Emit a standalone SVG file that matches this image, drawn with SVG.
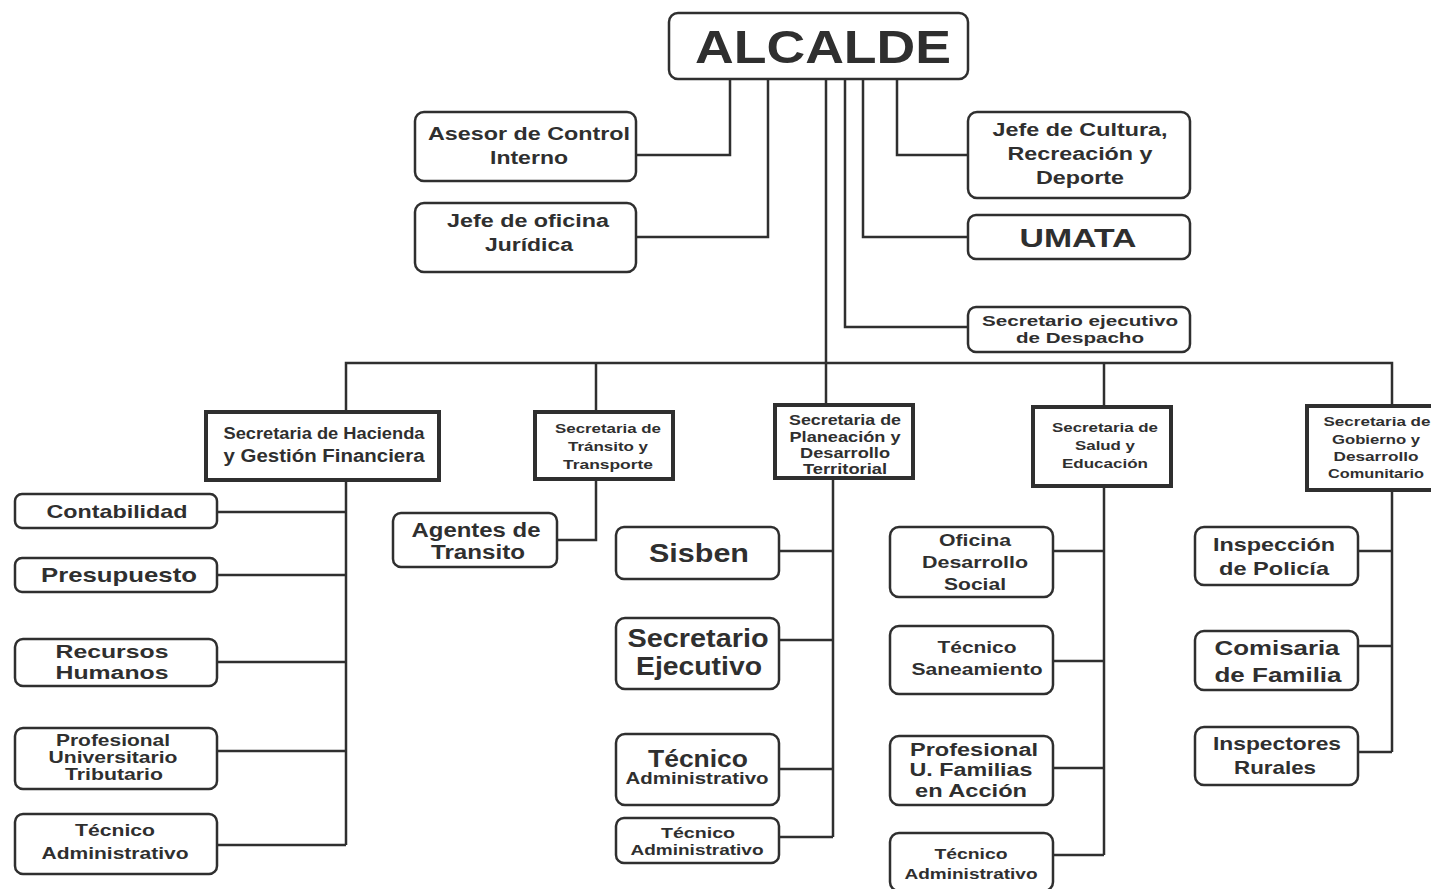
<svg xmlns="http://www.w3.org/2000/svg" width="1431" height="889" viewBox="0 0 1431 889">
<style>
.n{fill:#fff;stroke:#2f2f2f;stroke-width:2.5}
.s{fill:#fff;stroke:#2f2f2f;stroke-width:4}
.c{fill:none;stroke:#2f2f2f;stroke-width:2.5}
text{font-family:"Liberation Sans",Arial,sans-serif;font-weight:bold;fill:#2f2f2f;text-anchor:middle}
</style>
<rect width="1431" height="889" fill="#fff"/>
<g id="connectors">
<path class="c" d="M730,79V155H636"/>
<path class="c" d="M768,79V237H636"/>
<path class="c" d="M826,79V363"/>
<path class="c" d="M845,79V327H968"/>
<path class="c" d="M863,79V237H968"/>
<path class="c" d="M897,79V155H968"/>
<path class="c" d="M346,412V363H1392V406"/>
<path class="c" d="M596,363V412"/>
<path class="c" d="M826,363V405"/>
<path class="c" d="M1104,363V407"/>
<path class="c" d="M346,480V845"/>
<path class="c" d="M217,512H346M217,575H346M217,662H346M217,751H346M217,845H346"/>
<path class="c" d="M596,479V540H557"/>
<path class="c" d="M833,478V837"/>
<path class="c" d="M779,551H833M779,640H833M779,769H833M779,837H833"/>
<path class="c" d="M1104,486V855"/>
<path class="c" d="M1053,551H1104M1053,661H1104M1053,768H1104M1053,855H1104"/>
<path class="c" d="M1392,491V752"/>
<path class="c" d="M1358,551H1392M1358,646H1392M1358,752H1392"/>
</g>
<g id="alcalde"><rect class="n" x="669" y="13" width="299" height="66" rx="9"/><text x="823" y="63" font-size="46" textLength="256" lengthAdjust="spacingAndGlyphs">ALCALDE</text></g>
<g id="asesor"><rect class="n" x="415" y="112" width="221" height="69" rx="9"/><text x="529" y="140" font-size="18" textLength="202" lengthAdjust="spacingAndGlyphs">Asesor de Control</text><text x="529" y="164" font-size="18" textLength="78" lengthAdjust="spacingAndGlyphs">Interno</text></g>
<g id="juridica"><rect class="n" x="415" y="203" width="221" height="69" rx="9"/><text x="528" y="227" font-size="18" textLength="162" lengthAdjust="spacingAndGlyphs">Jefe de oficina</text><text x="529" y="251" font-size="18" textLength="88" lengthAdjust="spacingAndGlyphs">Jurídica</text></g>
<g id="cultura"><rect class="n" x="968" y="112" width="222" height="86" rx="9"/><text x="1080" y="136" font-size="18" textLength="175" lengthAdjust="spacingAndGlyphs">Jefe de Cultura,</text><text x="1080" y="160" font-size="18" textLength="145" lengthAdjust="spacingAndGlyphs">Recreación y</text><text x="1080" y="184" font-size="18" textLength="88" lengthAdjust="spacingAndGlyphs">Deporte</text></g>
<g id="umata"><rect class="n" x="968" y="215" width="222" height="44" rx="8"/><text x="1078" y="247" font-size="25" textLength="117" lengthAdjust="spacingAndGlyphs">UMATA</text></g>
<g id="despacho"><rect class="n" x="968" y="307" width="222" height="45" rx="8"/><text x="1080" y="326" font-size="15" textLength="196" lengthAdjust="spacingAndGlyphs">Secretario ejecutivo</text><text x="1080" y="343" font-size="15" textLength="128" lengthAdjust="spacingAndGlyphs">de Despacho</text></g>
<g id="hacienda"><rect class="s" x="206" y="412" width="233" height="68"/><text x="324" y="439" font-size="17" textLength="201" lengthAdjust="spacingAndGlyphs">Secretaria de Hacienda</text><text x="324" y="462" font-size="18" textLength="201" lengthAdjust="spacingAndGlyphs">y Gestión Financiera</text></g>
<g id="transito"><rect class="s" x="535" y="412" width="138" height="67"/><text x="608" y="433" font-size="13" textLength="106" lengthAdjust="spacingAndGlyphs">Secretaria de</text><text x="608" y="451" font-size="13" textLength="80" lengthAdjust="spacingAndGlyphs">Tránsito y</text><text x="608" y="469" font-size="13" textLength="90" lengthAdjust="spacingAndGlyphs">Transporte</text></g>
<g id="planeacion"><rect class="s" x="775" y="405" width="138" height="73"/><text x="845" y="425" font-size="14" textLength="112" lengthAdjust="spacingAndGlyphs">Secretaria de</text><text x="845" y="442" font-size="14" textLength="111" lengthAdjust="spacingAndGlyphs">Planeación y</text><text x="845" y="458" font-size="14" textLength="90" lengthAdjust="spacingAndGlyphs">Desarrollo</text><text x="845" y="474" font-size="14" textLength="84" lengthAdjust="spacingAndGlyphs">Territorial</text></g>
<g id="salud"><rect class="s" x="1033" y="407" width="138" height="79"/><text x="1105" y="432" font-size="13" textLength="106" lengthAdjust="spacingAndGlyphs">Secretaria de</text><text x="1105" y="450" font-size="13" textLength="60" lengthAdjust="spacingAndGlyphs">Salud y</text><text x="1105" y="468" font-size="13" textLength="86" lengthAdjust="spacingAndGlyphs">Educación</text></g>
<g id="gobierno"><rect class="s" x="1307" y="406" width="134" height="84"/><text x="1377" y="426" font-size="13" textLength="107" lengthAdjust="spacingAndGlyphs">Secretaria de</text><text x="1376" y="444" font-size="13" textLength="88" lengthAdjust="spacingAndGlyphs">Gobierno y</text><text x="1376" y="461" font-size="13" textLength="85" lengthAdjust="spacingAndGlyphs">Desarrollo</text><text x="1376" y="478" font-size="13" textLength="96" lengthAdjust="spacingAndGlyphs">Comunitario</text></g>
<g id="contabilidad"><rect class="n" x="15" y="494" width="202" height="34" rx="7"/><text x="117" y="518" font-size="19" textLength="141" lengthAdjust="spacingAndGlyphs">Contabilidad</text></g>
<g id="presupuesto"><rect class="n" x="15" y="558" width="202" height="34" rx="7"/><text x="119" y="582" font-size="21" textLength="156" lengthAdjust="spacingAndGlyphs">Presupuesto</text></g>
<g id="rrhh"><rect class="n" x="15" y="639" width="202" height="47" rx="8"/><text x="112" y="658" font-size="18" textLength="113" lengthAdjust="spacingAndGlyphs">Recursos</text><text x="112" y="679" font-size="18" textLength="113" lengthAdjust="spacingAndGlyphs">Humanos</text></g>
<g id="tributario"><rect class="n" x="15" y="728" width="202" height="61" rx="8"/><text x="113" y="746" font-size="17" textLength="114" lengthAdjust="spacingAndGlyphs">Profesional</text><text x="113" y="763" font-size="17" textLength="129" lengthAdjust="spacingAndGlyphs">Universitario</text><text x="114" y="780" font-size="17" textLength="98" lengthAdjust="spacingAndGlyphs">Tributario</text></g>
<g id="tecadm1"><rect class="n" x="15" y="814" width="202" height="60" rx="8"/><text x="115" y="836" font-size="17" textLength="80" lengthAdjust="spacingAndGlyphs">Técnico</text><text x="115" y="859" font-size="17" textLength="147" lengthAdjust="spacingAndGlyphs">Administrativo</text></g>
<g id="agentes"><rect class="n" x="393" y="513" width="164" height="54" rx="8"/><text x="476" y="537" font-size="20" textLength="129" lengthAdjust="spacingAndGlyphs">Agentes de</text><text x="478" y="559" font-size="20" textLength="94" lengthAdjust="spacingAndGlyphs">Transito</text></g>
<g id="sisben"><rect class="n" x="616" y="527" width="163" height="52" rx="8"/><text x="699" y="562" font-size="25" textLength="100" lengthAdjust="spacingAndGlyphs">Sisben</text></g>
<g id="secejec"><rect class="n" x="616" y="618" width="163" height="71" rx="9"/><text x="698" y="647" font-size="25" textLength="141" lengthAdjust="spacingAndGlyphs">Secretario</text><text x="699" y="675" font-size="25" textLength="126" lengthAdjust="spacingAndGlyphs">Ejecutivo</text></g>
<g id="tecadm2"><rect class="n" x="616" y="734" width="163" height="71" rx="9"/><text x="698" y="767" font-size="23" textLength="100" lengthAdjust="spacingAndGlyphs">Técnico</text><text x="697" y="784" font-size="16" textLength="143" lengthAdjust="spacingAndGlyphs">Administrativo</text></g>
<g id="tecadm3"><rect class="n" x="616" y="818" width="163" height="45" rx="8"/><text x="698" y="838" font-size="15" textLength="74" lengthAdjust="spacingAndGlyphs">Técnico</text><text x="697" y="855" font-size="15" textLength="133" lengthAdjust="spacingAndGlyphs">Administrativo</text></g>
<g id="oficina"><rect class="n" x="890" y="527" width="163" height="70" rx="9"/><text x="975" y="546" font-size="17" textLength="72" lengthAdjust="spacingAndGlyphs">Oficina</text><text x="975" y="568" font-size="17" textLength="106" lengthAdjust="spacingAndGlyphs">Desarrollo</text><text x="975" y="590" font-size="17" textLength="62" lengthAdjust="spacingAndGlyphs">Social</text></g>
<g id="saneamiento"><rect class="n" x="890" y="626" width="163" height="68" rx="9"/><text x="977" y="653" font-size="17" textLength="79" lengthAdjust="spacingAndGlyphs">Técnico</text><text x="977" y="675" font-size="17" textLength="131" lengthAdjust="spacingAndGlyphs">Saneamiento</text></g>
<g id="familias"><rect class="n" x="890" y="736" width="163" height="69" rx="9"/><text x="974" y="756" font-size="18" textLength="128" lengthAdjust="spacingAndGlyphs">Profesional</text><text x="971" y="776" font-size="18" textLength="123" lengthAdjust="spacingAndGlyphs">U. Familias</text><text x="971" y="797" font-size="18" textLength="112" lengthAdjust="spacingAndGlyphs">en Acción</text></g>
<g id="tecadm4"><rect class="n" x="890" y="833" width="163" height="58" rx="9"/><text x="971" y="859" font-size="15" textLength="73" lengthAdjust="spacingAndGlyphs">Técnico</text><text x="971" y="879" font-size="15" textLength="133" lengthAdjust="spacingAndGlyphs">Administrativo</text></g>
<g id="policia"><rect class="n" x="1195" y="527" width="163" height="58" rx="9"/><text x="1274" y="551" font-size="19" textLength="122" lengthAdjust="spacingAndGlyphs">Inspección</text><text x="1274" y="575" font-size="19" textLength="110" lengthAdjust="spacingAndGlyphs">de Policía</text></g>
<g id="comisaria"><rect class="n" x="1195" y="631" width="163" height="59" rx="9"/><text x="1277" y="655" font-size="21" textLength="125" lengthAdjust="spacingAndGlyphs">Comisaria</text><text x="1278" y="682" font-size="21" textLength="127" lengthAdjust="spacingAndGlyphs">de Familia</text></g>
<g id="rurales"><rect class="n" x="1195" y="727" width="163" height="58" rx="9"/><text x="1277" y="750" font-size="19" textLength="128" lengthAdjust="spacingAndGlyphs">Inspectores</text><text x="1275" y="774" font-size="19" textLength="82" lengthAdjust="spacingAndGlyphs">Rurales</text></g>
</svg>
